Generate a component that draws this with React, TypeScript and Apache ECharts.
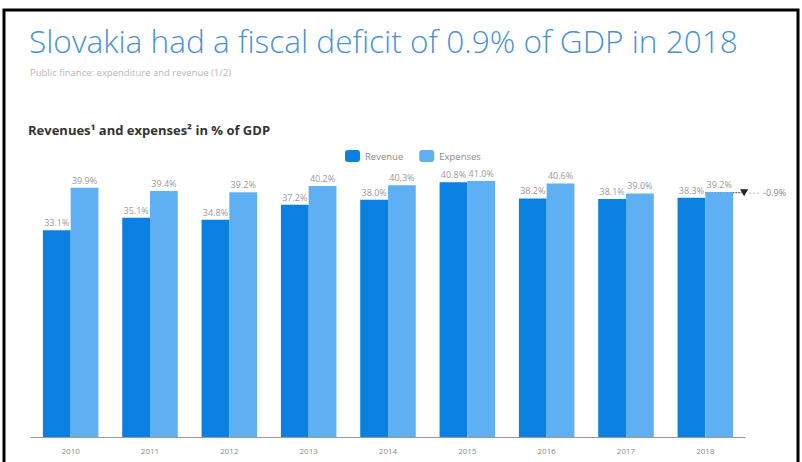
import React, { useEffect, useRef } from "react";
import * as echarts from "echarts";

const years = ["2010", "2011", "2012", "2013", "2014", "2015", "2016", "2017", "2018"];
const revenue = [33.1, 35.1, 34.8, 37.2, 38.0, 40.8, 38.2, 38.1, 38.3];
const expenses = [39.9, 39.4, 39.2, 40.2, 40.3, 41.0, 40.6, 39.0, 39.2];
const deficitLabel = "-0.9%";

const TITLE = "Slovakia had a fiscal deficit of 0.9% of GDP in 2018";
const SUBTITLE = "Public finance: expenditure and revenue (1/2)";
const CHART_TITLE = "Revenues¹ and expenses² in % of GDP";

export default function App() {
  const ref = useRef<HTMLDivElement>(null);
  useEffect(() => {
    if (!ref.current) return;
    const chart = echarts.init(ref.current, null, { renderer: "svg" });
    const labelStyle = {
      show: true,
      position: "top" as const,
      distance: 3,
      fontSize: 9,
      color: "#9a9a9a",
      fontFamily: "Open Sans",
      formatter: (p: any) => p.value.toFixed(1) + "%",
    };
    chart.setOption({
      animation: false,
      backgroundColor: "#ffffff",
      textStyle: { fontFamily: "Open Sans" },
      legend: {
        left: 340,
        top: 145,
        itemWidth: 15,
        itemHeight: 12,
        itemGap: 16,
        textStyle: { fontSize: 9.5, color: "#8a8a8a" },
        data: ["Revenue", "Expenses"],
      },
      grid: { left: 31, right: 57, top: 156, bottom: 25 },
      xAxis: {
        type: "category",
        data: years,
        axisLine: { lineStyle: { color: "#9a9a9a", width: 1 } },
        axisTick: { show: false },
        axisLabel: { fontSize: 8, color: "#8a8a8a", margin: 9 },
      },
      yAxis: {
        type: "value",
        min: 0,
        max: 45,
        show: false,
        splitLine: { show: false },
      },
      series: [
        {
          name: "Revenue",
          type: "bar",
          data: revenue,
          barGap: "0%",
          barCategoryGap: "30%",
          itemStyle: { color: "#0b80e3" },
          label: labelStyle,
        },
        {
          name: "Expenses",
          type: "bar",
          data: expenses,
          itemStyle: { color: "#5eb0f2" },
          label: labelStyle,
        },
      ],
      graphic: [
        {
          id: "frame",
          type: "rect",
          shape: { x: 4, y: 10, width: 794, height: 470 },
          style: { fill: "none", stroke: "#000", lineWidth: 3 },
          silent: true,
        },
        {
          id: "title",
          type: "text",
          left: 29,
          top: 24,
          style: {
            text: TITLE,
            fontSize: 31.6,
            fill: "#4a92d8",
            fontFamily: "Open Sans",
            fontWeight: 300,
          },
        },
        {
          id: "subtitle",
          type: "text",
          left: 30,
          top: 67,
          style: { text: SUBTITLE, fontSize: 9.5, fill: "#b8b8b8", fontFamily: "Open Sans" },
        },
        {
          id: "charttitle",
          type: "text",
          left: 28,
          top: 123,
          style: {
            text: CHART_TITLE,
            fontSize: 13,
            fontWeight: "bold",
            fill: "#333333",
            fontFamily: "Open Sans",
          },
        },
      ],
    });

    const last = years.length - 1;
    const pE = chart.convertToPixel({ gridIndex: 0 }, [years[last], expenses[last]]) as number[];
    const pNext = chart.convertToPixel({ gridIndex: 0 }, [years[last - 1], expenses[last]]) as number[];
    const catW = pE[0] - pNext[0];
    const barW = (catW * 0.7) / 2;
    const barRight = pE[0] + barW;
    const triX = barRight + 11;
    chart.setOption({
      graphic: [
        {
          id: "dl1",
          type: "line",
          shape: { x1: pE[0], y1: pE[1] + 0.5, x2: triX, y2: pE[1] + 0.5 },
          style: { stroke: "#444", lineWidth: 1, lineDash: [2, 1] },
        },
        {
          id: "tri",
          type: "polygon",
          shape: { points: [[triX - 4, pE[1] - 3], [triX + 4, pE[1] - 3], [triX, pE[1] + 4]] },
          style: { fill: "#222" },
        },
        {
          id: "dl3",
          type: "line",
          shape: { x1: triX + 5, y1: pE[1] + 1, x2: triX + 16, y2: pE[1] + 1 },
          style: { stroke: "#bbbbbb", lineWidth: 1, lineDash: [2, 2] },
        },
        {
          id: "deflabel",
          type: "text",
          x: triX + 19,
          y: pE[1] - 4,
          style: { text: deficitLabel, fontSize: 9, fill: "#8a8a8a", fontFamily: "Open Sans" },
        },
      ],
    });
    return () => chart.dispose();
  }, []);
  return (
    <div
      ref={ref}
      style={{ position: "fixed", left: 0, top: 0, width: 802, height: 462 }}
    />
  );
}
